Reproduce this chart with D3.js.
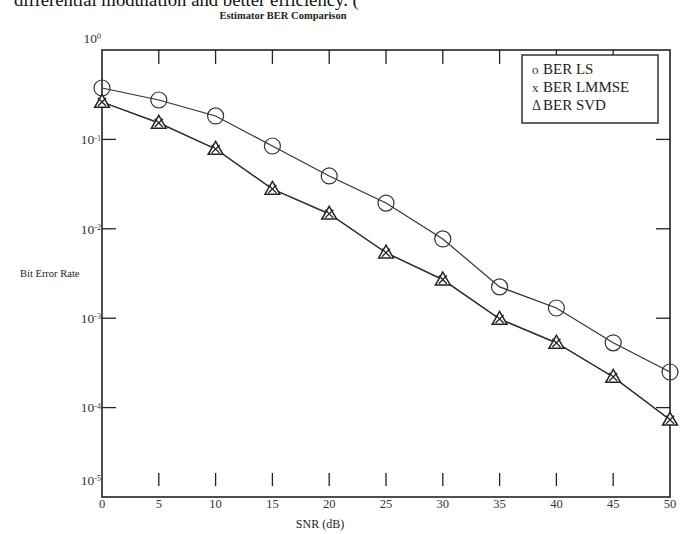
<!DOCTYPE html>
<html>
<head>
<meta charset="utf-8">
<script src="https://cdn.jsdelivr.net/npm/d3@7.9.0/dist/d3.min.js"></script>
<style>
  body { margin: 0; background: #fff; }
  svg { display: block; font-family: "Liberation Serif", "Times New Roman", serif; }
</style>
</head>
<body>
<svg id="chart" width="680" height="534"></svg>
<script>
// values
const snr = [0, 5, 10, 15, 20, 25, 30, 35, 40, 45, 50];
const berLS = [0.376, 0.276, 0.183, 0.0844, 0.039, 0.0194, 0.0077, 0.00224, 0.0013, 0.00053, 0.00025];
const berLMMSE = [0.262, 0.153, 0.078, 0.0279, 0.0147, 0.0054, 0.0027, 0.00098, 0.00053, 0.00022, 0.000073];
const berSVD = [0.262, 0.153, 0.078, 0.0279, 0.0147, 0.0054, 0.0027, 0.00098, 0.00053, 0.00022, 0.000073];
const xTicks = [0, 5, 10, 15, 20, 25, 30, 35, 40, 45, 50];
const yTicks = [1, 1e-1, 1e-2, 1e-3, 1e-4, 1e-5];
const legendItems = [
  { sym: 'o', label: 'BER LS' },
  { sym: 'x', label: 'BER LMMSE' },
  { sym: '\u0394', label: 'BER SVD' }
];

const svg = d3.select('#chart');
const ink = '#222';

const x = d3.scaleLinear().domain([0, 50]).range([102, 670]);
const y = d3.scaleLog().domain([1e-5, 1]).range([497, 50]);

// line of the surrounding document text, cut by the top edge as in the scan
svg.append('text')
  .attr('x', 14).attr('y', 6)
  .attr('font-size', 18.7)
  .attr('fill', '#111')
  .text('differential modulation and better efficiency. (');

svg.append('text')
  .attr('x', 283).attr('y', 19)
  .attr('text-anchor', 'middle')
  .attr('font-size', 10.5)
  .attr('font-weight', 'bold')
  .attr('fill', '#222')
  .text('Estimator BER Comparison');

// frame
svg.append('rect')
  .attr('x', x(0)).attr('y', y(1))
  .attr('width', x(50) - x(0))
  .attr('height', y(1e-5) - y(1))
  .attr('fill', 'none')
  .attr('stroke', ink)
  .attr('stroke-width', 1.6);

// x ticks (top ones hang from the frame, bottom ones float above the axis)
const innerX = xTicks.slice(1, -1);
svg.append('g').selectAll('line').data(innerX).join('line')
  .attr('x1', (d) => x(d)).attr('x2', (d) => x(d))
  .attr('y1', y(1)).attr('y2', y(1) + 14)
  .attr('stroke', ink).attr('stroke-width', 1.3);
svg.append('g').selectAll('line').data(innerX).join('line')
  .attr('x1', (d) => x(d)).attr('x2', (d) => x(d))
  .attr('y1', y(1e-5) - 24).attr('y2', y(1e-5) - 11)
  .attr('stroke', ink).attr('stroke-width', 1.3);

// y ticks on both sides
const innerY = yTicks.slice(1, -1);
svg.append('g').selectAll('line').data(innerY).join('line')
  .attr('x1', x(0)).attr('x2', x(0) + 14)
  .attr('y1', (d) => y(d)).attr('y2', (d) => y(d))
  .attr('stroke', ink).attr('stroke-width', 1.3);
svg.append('g').selectAll('line').data(innerY).join('line')
  .attr('x1', x(50) - 14).attr('x2', x(50))
  .attr('y1', (d) => y(d)).attr('y2', (d) => y(d))
  .attr('stroke', ink).attr('stroke-width', 1.3);

// x tick labels
svg.append('g').selectAll('text').data(xTicks).join('text')
  .attr('x', (d) => x(d)).attr('y', 508)
  .attr('text-anchor', 'middle')
  .attr('font-size', 12.5)
  .attr('fill', '#333')
  .text((d) => d);

// y tick labels, 10 with superscript exponent
const yl = svg.append('g').selectAll('text').data(yTicks).join('text')
  .attr('x', 101)
  .attr('y', (d) => {
    if (d === 1) return y(d) - 12;
    if (d === 1e-5) return y(d) - 17;
    return y(d);
  })
  .attr('dy', '0.35em')
  .attr('text-anchor', 'end')
  .attr('font-size', 13.5)
  .attr('fill', '#333');
yl.append('tspan').text('10');
yl.append('tspan')
  .attr('dy', '-0.45em')
  .attr('font-size', 8)
  .text((d) => Math.round(Math.log10(d)));

// axis titles
svg.append('text')
  .attr('x', 20).attr('y', 277)
  .attr('font-size', 10.5)
  .attr('fill', '#222')
  .text('Bit Error Rate');
svg.append('text')
  .attr('x', 320).attr('y', 528)
  .attr('text-anchor', 'middle')
  .attr('font-size', 12)
  .attr('fill', '#222')
  .text('SNR (dB)');

// series
const line = d3.line().x((d) => x(d[0])).y((d) => y(d[1]));
const ls = snr.map((s, i) => [s, berLS[i]]);
const lm = snr.map((s, i) => [s, berLMMSE[i]]);
const sv = snr.map((s, i) => [s, berSVD[i]]);

[ls, lm, sv].forEach((pts) => {
  svg.append('path')
    .attr('d', line(pts))
    .attr('fill', 'none')
    .attr('stroke', '#333')
    .attr('stroke-width', 1.2);
});

svg.append('g').selectAll('circle').data(ls).join('circle')
  .attr('cx', (d) => x(d[0])).attr('cy', (d) => y(d[1]))
  .attr('r', 8)
  .attr('fill', 'none')
  .attr('stroke', '#333')
  .attr('stroke-width', 1.2);

svg.append('g').selectAll('path').data(sv).join('path')
  .attr('transform', (d) => `translate(${x(d[0])},${y(d[1]) + 1})`)
  .attr('d', d3.symbol(d3.symbolTriangle, 95))
  .attr('fill', '#fff')
  .attr('stroke', '#222')
  .attr('stroke-width', 1.5);

svg.append('g').selectAll('path').data(lm).join('path')
  .attr('transform', (d) => `translate(${x(d[0])},${y(d[1])})`)
  .attr('d', d3.symbol(d3.symbolX, 45))
  .attr('fill', 'none')
  .attr('stroke', '#222')
  .attr('stroke-width', 1.3);

// legend
const lg = svg.append('g');
lg.append('rect')
  .attr('x', 522).attr('y', 55)
  .attr('width', 136).attr('height', 68)
  .attr('fill', '#fff')
  .attr('stroke', '#333')
  .attr('stroke-width', 1.5);
legendItems.forEach((d, i) => {
  const by = 74 + i * 18;
  lg.append('text')
    .attr('x', 532).attr('y', by)
    .attr('font-size', i === 2 ? 14 : 13)
    .attr('fill', '#333')
    .text(d.sym);
  lg.append('text')
    .attr('x', 543).attr('y', by)
    .attr('font-size', 15)
    .attr('fill', '#222')
    .text(d.label);
});
</script>
</body>
</html>
